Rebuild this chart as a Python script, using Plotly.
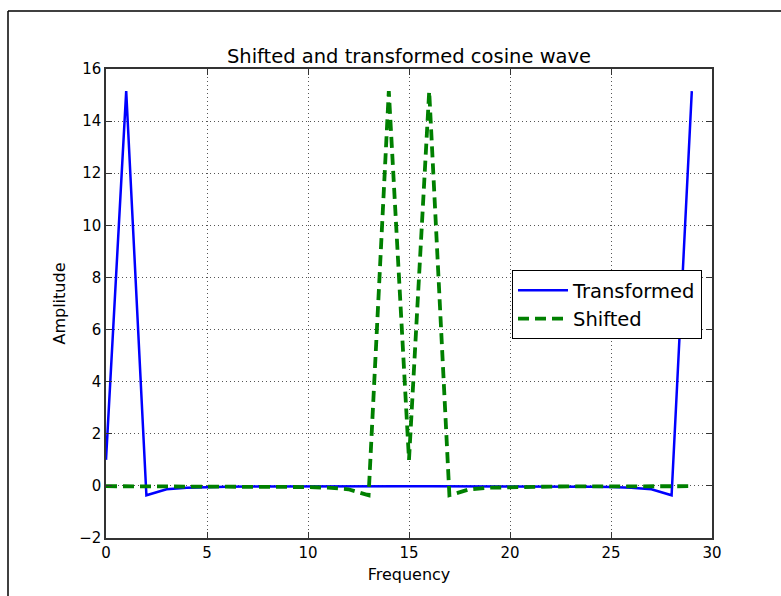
import plotly.graph_objects as go

freq = list(range(30))
transformed = [1.0, 15.15, -0.36, -0.13, -0.07, -0.045, -0.033, -0.026, -0.021, -0.018,
               -0.016, -0.014, -0.013, -0.012, -0.012, -0.012, -0.012, -0.012, -0.013, -0.014,
               -0.016, -0.018, -0.021, -0.026, -0.033, -0.045, -0.07, -0.13, -0.36, 15.15]
shifted = [-0.012, -0.012, -0.012, -0.013, -0.014, -0.016, -0.018, -0.021, -0.026, -0.033,
           -0.045, -0.07, -0.13, -0.36, 15.15, 1.0, 15.15, -0.36, -0.13, -0.07,
           -0.045, -0.033, -0.026, -0.021, -0.018, -0.016, -0.014, -0.013, -0.012, -0.012]
x_ticks = [0, 5, 10, 15, 20, 25, 30]
y_ticks = [-2, 0, 2, 4, 6, 8, 10, 12, 14, 16]
y_tick_text = ["\u22122" if v < 0 else str(v) for v in y_ticks]

FONT = "DejaVu Sans"

fig = go.Figure()
fig.add_trace(go.Scatter(x=freq, y=transformed, mode="lines", name="Transformed",
                         line=dict(color="#0000ff", width=2.5)))
fig.add_trace(go.Scatter(x=freq, y=shifted, mode="lines", name="Shifted",
                         line=dict(color="#008000", width=3.8, dash="11px,6px")))

axis_common = dict(
    showgrid=True, gridcolor="#555555", gridwidth=1, griddash="1px,3px",
    zeroline=False, showline=True, linecolor="#333333", linewidth=1.5,
    mirror="allticks", ticks="inside", ticklen=6, tickcolor="#333333",
    tickfont=dict(family=FONT, size=15, color="black"),
)

fig.update_layout(
    width=781, height=596,
    margin=dict(l=106, r=69, t=69, b=58),
    paper_bgcolor="white", plot_bgcolor="white",
    font=dict(family=FONT, color="black"),
    title=dict(text="Shifted and transformed cosine wave", x=409/781, xanchor="center",
               y=1 - 56/596, yanchor="middle", font=dict(family=FONT, size=19.5)),
    xaxis=dict(range=[0, 30], tickvals=x_ticks, ticktext=[str(v) for v in x_ticks],
               title=dict(text="Frequency", font=dict(family=FONT, size=16), standoff=8),
               **axis_common),
    yaxis=dict(range=[-2, 16], tickvals=y_ticks, ticktext=y_tick_text,
               title=dict(text="Amplitude", font=dict(family=FONT, size=16), standoff=10),
               **axis_common),
    legend=dict(x=(512-106)/606, y=(538-270)/469, xanchor="left", yanchor="top",
                bgcolor="white", bordercolor="black", borderwidth=1, itemwidth=50,
                font=dict(family=FONT, size=19.5), tracegroupgap=0),
    showlegend=True,
)

# Figure frame (left and top edges visible in the reference)
fig.add_shape(type="line", xref="paper", yref="paper",
              x0=(8-106)/606, x1=(8-106)/606, y0=(538-596)/469, y1=(538-11)/469,
              line=dict(color="black", width=1.5))
fig.add_shape(type="line", xref="paper", yref="paper",
              x0=(8-106)/606, x1=(781-106)/606, y0=(538-11)/469, y1=(538-11)/469,
              line=dict(color="black", width=1.5))

fig.write_html("out.html")
